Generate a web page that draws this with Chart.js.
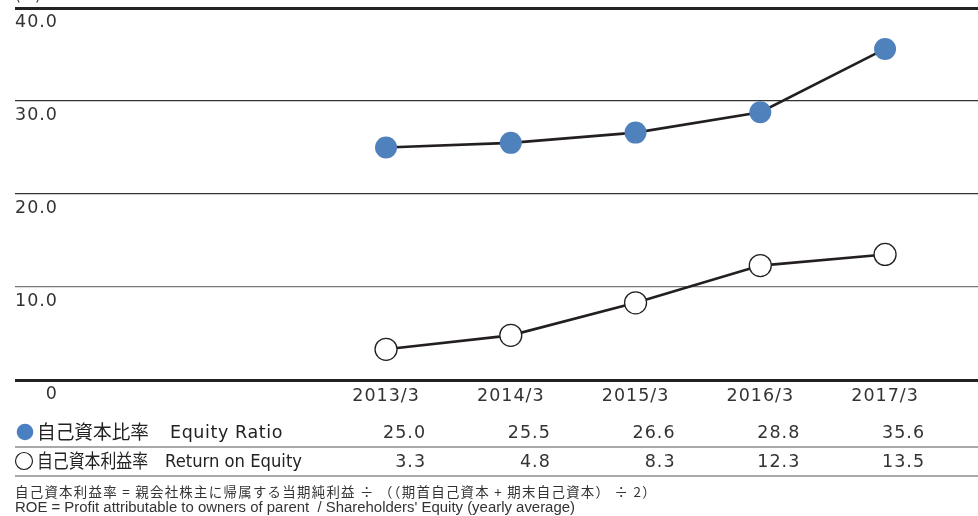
<!DOCTYPE html>
<html>
<head>
<meta charset="utf-8">
<script src="https://cdn.jsdelivr.net/npm/chart.js@4"></script>
<style>
html,body{margin:0;padding:0;background:#fff;overflow:hidden;}
#wrap{position:relative;width:978px;height:516px;}
</style>
</head>
<body>
<div id="wrap"><canvas id="c" width="978" height="516"></canvas></div>
<script>
const categories = ['2013/3', '2014/3', '2015/3', '2016/3', '2017/3'];
const equityRatio = [25.0, 25.5, 26.6, 28.8, 35.6];
const roe = [3.3, 4.8, 8.3, 12.3, 13.5];
const yTicks = [0, 10, 20, 30, 40];
const equityLabelJa = '自己資本比率';
const equityLabelEn = 'Equity Ratio';
const roeLabelJa = '自己資本利益率';
const roeLabelEn = 'Return on Equity';
const note1 = '自己資本利益率 = 親会社株主に帰属する当期純利益 ÷ （（期首自己資本 + 期末自己資本） ÷ 2）';
const note2 = "ROE = Profit attributable to owners of parent  / Shareholders' Equity (yearly average)";
const unitLabel = '(%)';

const CJK = "'Noto Sans CJK JP', sans-serif";
const NUM = "'DejaVu Sans', sans-serif";

const spacingPlugin = {
  id: 'spacingPlugin',
  beforeDraw(chart) { chart.ctx.letterSpacing = '1px'; },
  afterDraw(chart) { chart.ctx.letterSpacing = '0px'; }
};

const tablePlugin = {
  id: 'tablePlugin',
  afterDraw(chart) {
    const ctx = chart.ctx;
    const x = chart.scales.x;
    const area = chart.chartArea;
    ctx.save();
    ctx.letterSpacing = '0px';
    ctx.fillStyle = '#333';
    ctx.font = '15px ' + NUM;
    ctx.textAlign = 'left';
    ctx.textBaseline = 'bottom';
    ctx.fillText(unitLabel, area.left, 4);

    const rows = [
      {y: 432, line: 447, values: equityRatio, ja: equityLabelJa, en: equityLabelEn, jaW: 112, enX: 170, enW: 118, enLs: '0.6px', marker: 'filled'},
      {y: 461, line: 476, values: roe, ja: roeLabelJa, en: roeLabelEn, jaW: 111, enX: 165, enW: 137, enLs: '0px', marker: 'open'}
    ];
    rows.forEach(r => {
      ctx.textBaseline = 'middle';
      ctx.beginPath();
      if (r.marker === 'filled') {
        ctx.arc(area.left + 10, r.y, 8.3, 0, Math.PI * 2);
        ctx.fillStyle = '#4a7fc1';
        ctx.fill();
      } else {
        ctx.arc(area.left + 9, r.y, 8.5, 0, Math.PI * 2);
        ctx.strokeStyle = '#222';
        ctx.lineWidth = 1.2;
        ctx.stroke();
      }
      ctx.fillStyle = '#222';
      ctx.textAlign = 'left';
      ctx.font = '19px ' + CJK;
      ctx.letterSpacing = '0px';
      ctx.fillText(r.ja, area.left + 22, r.y, r.jaW);
      ctx.font = '17.5px ' + NUM;
      ctx.letterSpacing = r.enLs;
      ctx.fillText(r.en, r.enX, r.y + 1, r.enW);
      ctx.font = '17.5px ' + NUM;
      ctx.letterSpacing = '1px';
      ctx.fillStyle = '#333';
      ctx.textAlign = 'right';
      r.values.forEach((v, i) => {
        ctx.fillText(v.toFixed(1), x.getPixelForValue(i) + 40, r.y + 1);
      });
      ctx.letterSpacing = '0px';
      ctx.beginPath();
      ctx.strokeStyle = '#555';
      ctx.lineWidth = 1.2;
      ctx.moveTo(area.left, r.line);
      ctx.lineTo(area.right, r.line);
      ctx.stroke();
    });
    ctx.fillStyle = '#333';
    ctx.textAlign = 'left';
    ctx.textBaseline = 'middle';
    ctx.font = '13.5px ' + CJK;
    ctx.letterSpacing = '1.3px';
    ctx.fillText(note1, area.left, 492, 642);
    ctx.letterSpacing = '0px';
    ctx.font = '15.5px "Liberation Sans", Arial, sans-serif';
    ctx.fillText(note2, area.left, 508, 560);
    ctx.restore();
  }
};

new Chart(document.getElementById('c'), {
  type: 'line',
  data: {
    datasets: [
      {
        label: 'Equity Ratio',
        data: equityRatio.map((v, i) => ({x: i, y: v})),
        borderColor: '#231f20',
        borderWidth: 2.6,
        pointRadius: 11,
        pointHoverRadius: 11,
        pointBackgroundColor: '#4f81bd',
        pointBorderColor: '#4f81bd',
        pointBorderWidth: 0,
        tension: 0
      },
      {
        label: 'ROE',
        data: roe.map((v, i) => ({x: i, y: v})),
        borderColor: '#231f20',
        borderWidth: 2.6,
        pointRadius: 11,
        pointHoverRadius: 11,
        pointBackgroundColor: '#ffffff',
        pointBorderColor: '#231f20',
        pointBorderWidth: 1.3,
        tension: 0
      }
    ]
  },
  options: {
    responsive: false,
    animation: false,
    devicePixelRatio: 1,
    layout: {autoPadding: false, padding: {left: 15, right: 0, top: 8, bottom: 0}},
    plugins: {legend: {display: false}, tooltip: {enabled: false}},
    scales: {
      x: {
        type: 'linear',
        min: -2.974,
        max: 4.745,
        grid: {display: false, drawTicks: false},
        border: {display: false},
        afterBuildTicks: s => { s.ticks = categories.map((c, i) => ({value: i})); },
        afterFit: s => { s.height = 136; s.paddingLeft = 0; s.paddingRight = 0; },
        ticks: {
          padding: 6,
          color: '#333',
          font: {family: NUM, size: 17.5},
          callback: v => categories[v] ?? ''
        }
      },
      y: {
        min: 0,
        max: 40,
        afterBuildTicks: s => { s.ticks = yTicks.map(v => ({value: v})); },
        afterFit: s => { s.width = 0; s.paddingTop = 0; s.paddingBottom = 0; },
        grid: {
          drawTicks: false,
          color: c => {
            const v = c.tick.value;
            if (v === 0 || v === 40) return '#222';
            if (v === 10) return '#777';
            return '#333';
          },
          lineWidth: c => {
            const v = c.tick.value;
            return (v === 0 || v === 40) ? 3 : 1.3;
          }
        },
        border: {display: false},
        ticks: {
          mirror: true,
          padding: 0,
          labelOffset: 14,
          color: '#333',
          font: {family: NUM, size: 17.5},
          callback: v => v === 0 ? '\u2007\u2007\u20080' : v.toFixed(1)
        }
      }
    }
  },
  plugins: [spacingPlugin, tablePlugin]
});
</script>
</body>
</html>
